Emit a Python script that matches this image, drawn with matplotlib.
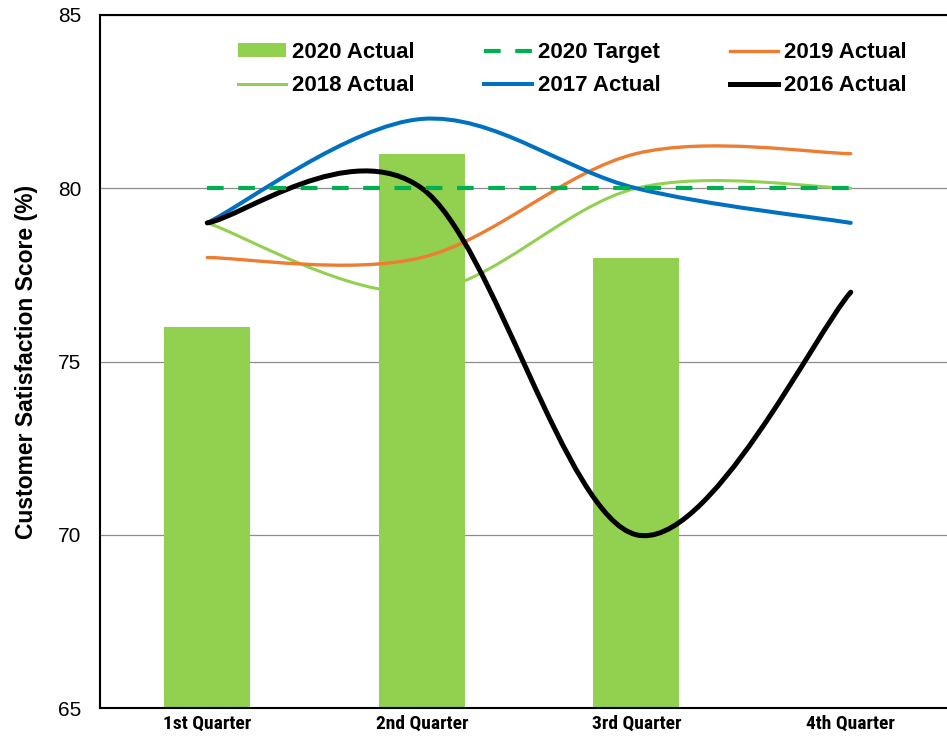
#!/usr/bin/env python3
"""Customer satisfaction by quarter: 2020 actual bars vs target and past years."""

import matplotlib
matplotlib.use("Agg")
import matplotlib.pyplot as plt
from matplotlib.lines import Line2D
from matplotlib.patches import Patch, PathPatch
from matplotlib.path import Path
import numpy as np

QUARTERS = ["1st Quarter", "2nd Quarter", "3rd Quarter", "4th Quarter"]
ACTUAL_2020 = [76, 81, 78]          # no Q4 value yet
TARGET_2020 = [80, 80, 80, 80]
ACTUAL_2019 = [78, 78, 81, 81]
ACTUAL_2018 = [79, 77, 80, 80]
ACTUAL_2017 = [79, 82, 80, 79]
ACTUAL_2016 = [79, 80, 70, 77]

COL_BAR = "#92D050"
COL_TGT = "#00B050"
COL_19 = "#ED7D31"
COL_18 = "#92D050"
COL_17 = "#0070C0"
COL_16 = "#000000"

NARROW = ["Roboto Condensed", "Liberation Sans", "DejaVu Sans"]
REGULAR = ["Liberation Sans", "DejaVu Sans"]
TGT_DASH = (4.0, 3.5)


def smooth_path(xs, ys):
    """Excel-like smoothed line: cubic Bezier through the points."""
    pts = list(zip(xs, ys))
    n = len(pts)
    verts = [pts[0]]
    codes = [Path.MOVETO]
    for i in range(n - 1):
        p0 = pts[max(i - 1, 0)]
        p1 = pts[i]
        p2 = pts[i + 1]
        p3 = pts[min(i + 2, n - 1)]
        c1 = (p1[0] + (p2[0] - p0[0]) / 6, p1[1] + (p2[1] - p0[1]) / 6)
        c2 = (p2[0] - (p3[0] - p1[0]) / 6, p2[1] - (p3[1] - p1[1]) / 6)
        verts += [c1, c2, p2]
        codes += [Path.CURVE4] * 3
    return Path(verts, codes)


def main():
    fig = plt.figure(figsize=(9.47, 7.37), dpi=100)
    ax = fig.add_axes([100 / 947, 29 / 737, 858 / 947, 693 / 737])

    x = np.arange(len(QUARTERS))
    ax.bar(x[:len(ACTUAL_2020)], ACTUAL_2020, 0.4, color=COL_BAR, zorder=2)

    lines = [(ACTUAL_2018, COL_18, 2.2),
             (ACTUAL_2019, COL_19, 2.4),
             (ACTUAL_2017, COL_17, 2.9),
             (ACTUAL_2016, COL_16, 3.6)]
    for vals, col, lw in lines:
        ax.add_patch(PathPatch(smooth_path(x, vals), facecolor="none",
                               edgecolor=col, linewidth=lw, zorder=3,
                               capstyle="round"))
    ax.plot(x, TARGET_2020, color=COL_TGT, linewidth=3.0,
            dashes=TGT_DASH, zorder=3)

    ax.set_xlim(-0.5, 3.5)
    ax.set_ylim(65, 85)
    ax.set_yticks([65, 70, 75, 80, 85])
    ax.set_xticks(x)
    ax.set_xticklabels(QUARTERS, family=NARROW, fontweight="bold",
                       fontsize=14)
    for lab in ax.get_yticklabels():
        lab.set_family(REGULAR)
        lab.set_fontsize(15)
    ax.tick_params(axis="y", length=0, pad=13.5)
    ax.tick_params(axis="x", length=0, pad=5)
    ax.grid(True, axis="y", color="#8c8c8c", linewidth=0.9, zorder=0)
    ax.set_axisbelow(True)
    for side in ("left", "bottom", "top"):
        ax.spines[side].set_color("black")
        ax.spines[side].set_linewidth(1.5)
    ax.spines["right"].set_visible(False)

    ax.set_ylabel("Customer Satisfaction Score (%)", family=REGULAR,
                  fontweight="bold", fontsize=16.5, labelpad=14)

    handles = [
        Patch(facecolor=COL_BAR, label="2020 Actual"),
        Line2D([], [], color=COL_18, linewidth=2.2, label="2018 Actual"),
        Line2D([], [], color=COL_TGT, linewidth=3.0, dashes=TGT_DASH,
               label="2020 Target"),
        Line2D([], [], color=COL_17, linewidth=2.9, label="2017 Actual"),
        Line2D([], [], color=COL_19, linewidth=2.4, label="2019 Actual"),
        Line2D([], [], color=COL_16, linewidth=3.6, label="2016 Actual"),
    ]
    ax.legend(handles=handles, ncol=3, loc="upper left",
              bbox_to_anchor=(238 / 947, 1 - 42 / 737),
              bbox_transform=fig.transFigure, frameon=False, borderpad=0,
              borderaxespad=0, handlelength=2.15, handleheight=0.6,
              handletextpad=0.3, columnspacing=3.1, labelspacing=0.55,
              prop={"family": REGULAR, "weight": "bold", "size": 16})

    fig.savefig("out.png", dpi=100)


if __name__ == "__main__":
    main()
